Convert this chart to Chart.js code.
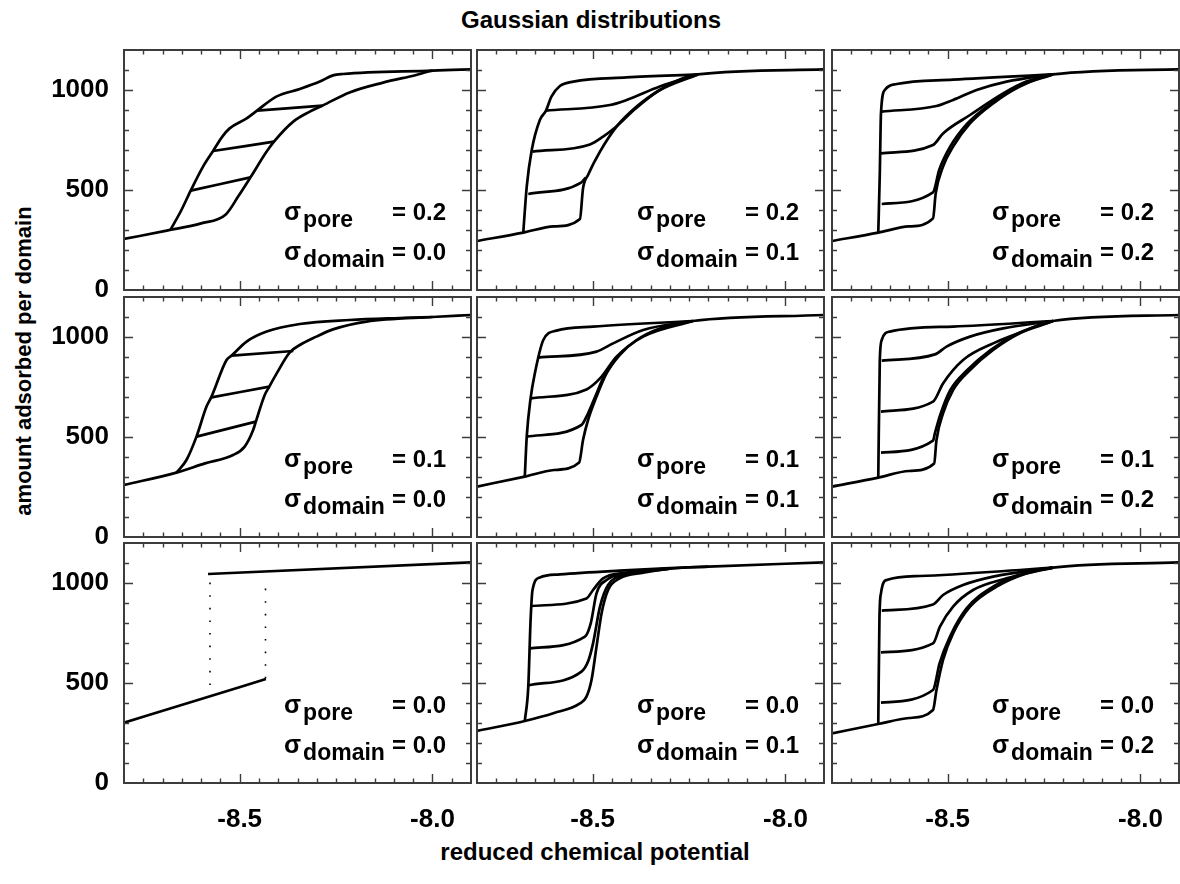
<!DOCTYPE html>
<html>
<head>
<meta charset="utf-8">
<script src="https://cdn.jsdelivr.net/npm/chart.js@4.4.1/dist/chart.umd.min.js"></script>
<style>
  html, body { margin: 0; padding: 0; background: #fff; overflow: hidden; }
  #wrap { position: relative; width: 1180px; height: 884px; }
  #wrap canvas { position: absolute; }
  .lbl { position: absolute; font: bold 24px "Liberation Sans", Arial, sans-serif; color: #000; white-space: nowrap; line-height: 24px; }
</style>
</head>
<body>
<div id="wrap">
  <div class="lbl" style="left:591px; top:8px; transform:translateX(-50%);">Gaussian distributions</div>
  <div class="lbl" style="left:595px; top:840px; transform:translateX(-50%);">reduced chemical potential</div>
  <div class="lbl" style="font-size:22px; line-height:22px; width:400px; text-align:center; left:-176px; top:350px; transform:rotate(-90deg);">amount adsorbed per domain</div>
</div>
<script>
// axes
const xMin = -8.8, xMax = -7.9;
const yMin = 0, yMax = 1200;
const xTicks = [-8.5, -8.0];
const yTicks = [0, 500, 1000];
const xMinorStep = 0.05;
const yMinorStep = 100;
const poreSigma = ['0.2', '0.1', '0.0'];     // by row
const domainSigma = ['0.0', '0.1', '0.2'];   // by column

// sigma_pore = 0.2
const p2d0Ads = [[-8.8,255],[-8.689,297],[-8.6,333],[-8.536,378],[-8.504,467],[-8.472,563],[-8.43,692],[-8.411,742],[-8.361,842],[-8.318,892],[-8.285,922],[-8.215,988],[-8.128,1037],[-8.042,1075],[-7.999,1097],[-7.9,1103]];
const p2d0Des = [[-8.679,303],[-8.651,400],[-8.627,497],[-8.595,617],[-8.569,695],[-8.545,767],[-8.526,808],[-8.482,858],[-8.455,897],[-8.405,967],[-8.344,1005],[-8.292,1042],[-8.258,1073],[-8.232,1080],[-7.999,1097]];
const p2d0Scan1 = [[-8.627,497],[-8.472,563]];
const p2d0Scan2 = [[-8.569,695],[-8.411,742]];
const p2d0Scan3 = [[-8.455,897],[-8.285,922]];

const p2d1Ads = [[-8.8,245],[-8.68,287],[-8.6,318],[-8.533,355],[-8.525,508],[-8.512,575],[-8.481,692],[-8.438,817],[-8.386,917],[-8.326,1000],[-8.274,1053],[-8.227,1078],[-7.9,1103]];
const p2d1Des = [[-8.68,287],[-8.671,517],[-8.658,700],[-8.637,850],[-8.621,897],[-8.607,967],[-8.585,1020],[-8.55,1042],[-8.412,1063],[-8.227,1078]];
const p2d1Scan1 = [[-8.667,480],[-8.53,537],[-8.518,562]];
const p2d1Scan2 = [[-8.656,692],[-8.507,728],[-8.473,767],[-8.44,815],[-8.39,905],[-8.33,995],[-8.227,1078]];
const p2d1Scan3 = [[-8.621,897],[-8.455,925],[-8.412,950],[-8.326,1017],[-8.227,1078]];

const p2d2Ads = [[-8.8,245],[-8.68,287],[-8.6,318],[-8.538,358],[-8.531,483],[-8.512,617],[-8.486,717],[-8.442,833],[-8.382,933],[-8.313,1017],[-8.227,1078],[-7.9,1103]];
const p2d2Des = [[-8.68,287],[-8.676,583],[-8.673,883],[-8.663,1000],[-8.632,1030],[-8.486,1052],[-8.227,1078]];
const p2d2Scan1 = [[-8.671,430],[-8.538,488],[-8.522,600],[-8.494,715],[-8.45,830],[-8.39,930],[-8.32,1015],[-8.227,1078]];
const p2d2Scan2 = [[-8.673,683],[-8.538,725],[-8.512,783],[-8.442,875],[-8.356,983],[-8.296,1042],[-8.227,1078]];
const p2d2Scan3 = [[-8.671,892],[-8.529,920],[-8.486,950],[-8.425,1000],[-8.347,1042],[-8.227,1078]];

// sigma_pore = 0.1
const p1d0Ads = [[-8.8,260],[-8.664,322],[-8.59,368],[-8.517,410],[-8.487,452],[-8.465,535],[-8.458,577],[-8.435,710],[-8.423,752],[-8.404,818],[-8.37,923],[-8.344,960],[-8.301,1002],[-8.258,1038],[-8.171,1077],[-8.0,1100],[-7.9,1110]];
const p1d0Des = [[-8.664,322],[-8.638,385],[-8.612,502],[-8.586,652],[-8.573,702],[-8.534,885],[-8.521,907],[-8.482,977],[-8.43,1027],[-8.344,1065],[-8.215,1085],[-8.085,1095],[-8.0,1100]];
const p1d0Scan1 = [[-8.612,502],[-8.458,577]];
const p1d0Scan2 = [[-8.573,698],[-8.423,752]];
const p1d0Scan3 = [[-8.521,907],[-8.361,930]];

const p1d1Ads = [[-8.8,252],[-8.676,302],[-8.6,335],[-8.535,373],[-8.525,485],[-8.512,585],[-8.49,702],[-8.464,818],[-8.43,910],[-8.386,985],[-8.326,1043],[-8.24,1080],[-7.9,1110]];
const p1d1Des = [[-8.676,302],[-8.671,502],[-8.661,693],[-8.65,818],[-8.628,985],[-8.594,1032],[-8.499,1052],[-8.24,1080]];
const p1d1Scan1 = [[-8.671,502],[-8.529,560],[-8.516,602],[-8.496,690],[-8.47,805],[-8.435,905]];
const p1d1Scan2 = [[-8.661,693],[-8.516,738],[-8.481,793],[-8.438,902],[-8.369,1002],[-8.24,1080]];
const p1d1Scan3 = [[-8.641,897],[-8.49,927],[-8.447,968],[-8.369,1035],[-8.24,1080]];

const p1d2Ads = [[-8.8,252],[-8.68,297],[-8.6,330],[-8.535,368],[-8.529,485],[-8.512,618],[-8.486,735],[-8.442,835],[-8.382,935],[-8.313,1018],[-8.227,1080],[-7.9,1110]];
const p1d2Des = [[-8.68,297],[-8.676,885],[-8.671,985],[-8.65,1027],[-8.486,1052],[-8.227,1080]];
const p1d2Scan1 = [[-8.673,422],[-8.538,482],[-8.533,520],[-8.518,618],[-8.493,735],[-8.449,835],[-8.389,935],[-8.318,1018],[-8.227,1080]];
const p1d2Scan2 = [[-8.673,627],[-8.538,677],[-8.512,768],[-8.46,885],[-8.382,968],[-8.227,1080]];
const p1d2Scan3 = [[-8.671,882],[-8.533,913],[-8.503,952],[-8.442,1002],[-8.356,1043],[-8.227,1080]];

// sigma_pore = 0.0
const p0d0Ads = [[-8.8,302],[-8.6,420],[-8.432,520]];
const p0d0Des = [[-8.582,1045],[-7.9,1103]];
const p0d0Jump1 = [[-8.577,490],[-8.577,1003]];
const p0d0Jump2 = [[-8.433,523],[-8.433,1007]];

const p0d1Ads = [[-8.8,260],[-8.676,310],[-8.6,350],[-8.533,398],[-8.516,432],[-8.503,515],[-8.49,682],[-8.477,848],[-8.46,965],[-8.43,1023],[-8.369,1052],[-8.3,1072],[-8.2,1082],[-7.9,1103]];
const p0d1Des = [[-8.676,310],[-8.667,482],[-8.661,815],[-8.656,965],[-8.637,1028],[-8.585,1043],[-8.43,1062],[-8.3,1074],[-8.2,1082]];
const p0d1Scan1 = [[-8.667,488],[-8.529,557],[-8.512,607],[-8.499,698],[-8.481,882],[-8.46,990],[-8.412,1040],[-8.3,1072]];
const p0d1Scan2 = [[-8.663,673],[-8.52,732],[-8.505,798],[-8.49,948],[-8.464,1015],[-8.412,1048],[-8.3,1072]];
const p0d1Scan3 = [[-8.658,885],[-8.516,923],[-8.499,965],[-8.473,1023],[-8.412,1052],[-8.3,1073]];

const p0d2Ads = [[-8.8,248],[-8.68,295],[-8.6,325],[-8.538,365],[-8.529,465],[-8.512,615],[-8.486,748],[-8.442,882],[-8.373,982],[-8.296,1048],[-8.227,1077],[-7.9,1103]];
const p0d2Des = [[-8.68,295],[-8.677,815],[-8.673,948],[-8.658,1015],[-8.572,1035],[-8.313,1065],[-8.227,1077]];
const p0d2Scan1 = [[-8.673,402],[-8.538,465],[-8.521,598],[-8.494,732],[-8.451,873],[-8.382,982],[-8.296,1052],[-8.227,1077]];
const p0d2Scan2 = [[-8.673,653],[-8.538,698],[-8.52,782],[-8.486,882],[-8.434,965],[-8.347,1023],[-8.227,1077]];
const p0d2Scan3 = [[-8.671,862],[-8.538,893],[-8.512,940],[-8.46,990],[-8.382,1032],[-8.227,1077]];

const panelLines = [
  [[p2d0Ads, p2d0Des, p2d0Scan1, p2d0Scan2, p2d0Scan3],
   [p2d1Ads, p2d1Des, p2d1Scan1, p2d1Scan2, p2d1Scan3],
   [p2d2Ads, p2d2Des, p2d2Scan1, p2d2Scan2, p2d2Scan3]],
  [[p1d0Ads, p1d0Des, p1d0Scan1, p1d0Scan2, p1d0Scan3],
   [p1d1Ads, p1d1Des, p1d1Scan1, p1d1Scan2, p1d1Scan3],
   [p1d2Ads, p1d2Des, p1d2Scan1, p1d2Scan2, p1d2Scan3]],
  [[p0d0Ads, p0d0Des],
   [p0d1Ads, p0d1Des, p0d1Scan1, p0d1Scan2, p0d1Scan3],
   [p0d2Ads, p0d2Des, p0d2Scan1, p0d2Scan2, p0d2Scan3]]
];
const panelDotted = { '2,0': [p0d0Jump1, p0d0Jump2] };

// layout
const colLeft = [124, 477, 832];
const rowTop = [50, 297, 543];
const panelW = 347, panelH = 240;
const labelFont = '"Liberation Sans", Arial, sans-serif';
const tickFont = { family: '"Liberation Sans", Arial, sans-serif', weight: 'bold', size: 26 };

const isOn = (list, v) => list.some(t => Math.abs(t - v) < 1e-6);
const noPad = s => { s.paddingTop = 0; s.paddingBottom = 0; s.paddingLeft = 0; s.paddingRight = 0; };

const panelDecor = {
  id: 'panelDecor',
  afterDraw(chart, args, opts) {
    const { ctx, chartArea: a, scales: { x, y } } = chart;
    ctx.save();
    ctx.strokeStyle = '#3c3c3c';
    ctx.lineWidth = 1.4;
    ctx.beginPath();
    for (let v = xMin + xMinorStep; v < xMax - 1e-6; v += xMinorStep) {
      const px = Math.round(x.getPixelForValue(v)) + 0.5;
      const len = isOn(xTicks, v) ? 9 : 4.5;
      ctx.moveTo(px, a.bottom); ctx.lineTo(px, a.bottom - len);
      ctx.moveTo(px, a.top); ctx.lineTo(px, a.top + len);
    }
    for (let v = yMin + yMinorStep; v < yMax - 1e-6; v += yMinorStep) {
      const py = Math.round(y.getPixelForValue(v)) + 0.5;
      const len = isOn(yTicks, v) ? 9 : 5;
      ctx.moveTo(a.left, py); ctx.lineTo(a.left + len, py);
      ctx.moveTo(a.right, py); ctx.lineTo(a.right - len, py);
    }
    ctx.stroke();
    ctx.lineWidth = 2;
    ctx.strokeRect(a.left, a.top, a.right - a.left, a.bottom - a.top);

    // sigma annotation
    ctx.fillStyle = '#000';
    ctx.textAlign = 'left';
    ctx.textBaseline = 'alphabetic';
    const sx = a.left + 160, ex = a.left + 268;
    const rows = [['pore', opts.pore, a.bottom - 70], ['domain', opts.domain, a.bottom - 30]];
    rows.forEach(([sub, val, base]) => {
      ctx.font = 'bold 25px ' + labelFont;
      ctx.fillText('\u03c3', sx, base);
      const w = ctx.measureText('\u03c3').width;
      ctx.font = 'bold 23px ' + labelFont;
      ctx.fillText(sub, sx + w + 2, base + 7);
      ctx.font = 'bold 24px ' + labelFont;
      ctx.fillText('= ' + val, ex, base);
    });
    ctx.restore();
  }
};

const wrap = document.getElementById('wrap');

function makePanel(row, col) {
  const yAxisW = col === 0 ? colLeft[0] : 0;
  const xAxisH = row === 2 ? 70 : 0;
  const padLeft = col === 0 ? 0 : 2;
  const padBottom = row === 2 ? 0 : (col === 0 ? 18 : 2);
  const w = yAxisW + padLeft + panelW + 2;
  const h = 2 + panelH + xAxisH + padBottom;

  const canvas = document.createElement('canvas');
  canvas.width = w; canvas.height = h;
  canvas.style.width = w + 'px'; canvas.style.height = h + 'px';
  canvas.style.left = (colLeft[col] - yAxisW - padLeft) + 'px';
  canvas.style.top = (rowTop[row] - 2) + 'px';
  wrap.appendChild(canvas);

  const datasets = panelLines[row][col].map(pts => ({
    data: pts.map(([x, y]) => ({ x, y })),
    borderColor: '#000',
    borderWidth: 2.7,
    pointRadius: 0,
    cubicInterpolationMode: 'monotone',
    fill: false
  }));
  (panelDotted[row + ',' + col] || []).forEach(pts => datasets.push({
    data: pts.map(([x, y]) => ({ x, y })),
    borderColor: '#000',
    borderWidth: 1.6,
    borderDash: [1.6, 11],
    pointRadius: 0,
    fill: false
  }));

  new Chart(canvas, {
    type: 'line',
    data: { datasets },
    options: {
      responsive: false,
      animation: false,
      events: [],
      layout: { autoPadding: false, padding: { left: padLeft, top: 2, right: 2, bottom: padBottom } },
      scales: {
        x: {
          type: 'linear', position: 'bottom', min: xMin, max: xMax,
          display: row === 2,
          grid: { display: false, drawTicks: false },
          border: { display: false },
          afterFit: s => { s.height = xAxisH; noPad(s); },
          afterBuildTicks: s => { s.ticks = xTicks.map(v => ({ value: v })); },
          ticks: { autoSkip: false, maxRotation: 0, padding: 21, color: '#000', font: tickFont,
                   callback: v => Number(v).toFixed(1) }
        },
        y: {
          type: 'linear', position: 'left', min: yMin, max: yMax,
          display: col === 0,
          grid: { display: false, drawTicks: false },
          border: { display: false },
          afterFit: s => { s.width = yAxisW; noPad(s); },
          afterBuildTicks: s => { s.ticks = yTicks.map(v => ({ value: v })); },
          ticks: { padding: 15, color: '#000', font: tickFont, callback: v => String(v) }
        }
      },
      plugins: {
        legend: { display: false },
        tooltip: { enabled: false },
        panelDecor: { pore: poreSigma[row], domain: domainSigma[col] }
      }
    },
    plugins: [panelDecor]
  });
}

for (let r = 0; r < 3; r++) {
  for (let c = 0; c < 3; c++) makePanel(r, c);
}
</script>
</body>
</html>
